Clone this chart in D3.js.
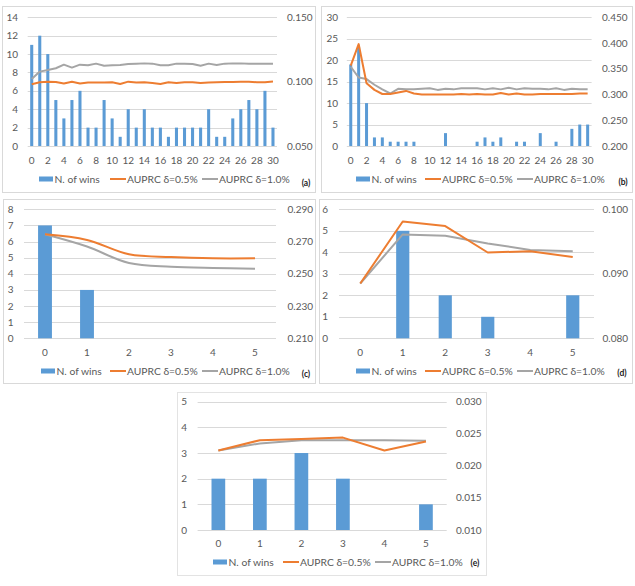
<!DOCTYPE html>
<html><head><meta charset="utf-8">
<script src="https://cdn.jsdelivr.net/npm/d3@7"></script>
<style>body{margin:0;background:#fff}svg{display:block}text{font-family:Lato,"Open Sans",sans-serif}</style>
</head><body><svg id="chart" width="635" height="586"></svg>
<script>
// ---------- DATA ----------
const categoriesLong = ["0","1","2","3","4","5","6","7","8","9","10","11","12","13","14","15","16","17","18","19","20","21","22","23","24","25","26","27","28","29","30"];
const categoriesShort = ["0","1","2","3","4","5"];
const seriesNames = ["N. of wins", "AUPRC δ=0.5%", "AUPRC δ=1.0%"];

const winsA = [11,12,10,5,3,5,6,2,2,5,3,1,4,2,4,2,2,1,2,2,2,2,4,1,1,3,4,5,4,6,2];
const auprc05A = [0.0980,0.0995,0.1000,0.0998,0.0986,0.1000,0.0986,0.0993,0.0993,0.0993,0.0995,0.0982,0.1000,0.0993,0.0995,0.0990,0.0982,0.0995,0.0990,0.0995,0.0995,0.0990,0.0993,0.0995,0.0998,0.0998,0.1000,0.1000,0.0995,0.0995,0.1002];
const auprc10A = [0.1021,0.1078,0.1090,0.1104,0.1132,0.1109,0.1132,0.1127,0.1140,0.1124,0.1127,0.1130,0.1137,0.1140,0.1142,0.1140,0.1127,0.1127,0.1140,0.1140,0.1137,0.1124,0.1140,0.1130,0.1140,0.1142,0.1142,0.1140,0.1140,0.1140,0.1140];

const winsB = [19,23,10,2,2,1,1,1,1,0,0,0,3,0,0,0,1,2,1,2,0,1,1,0,3,0,1,0,4,5,5];
const auprc05B = [0.356,0.398,0.322,0.309,0.301,0.301,0.304,0.307,0.302,0.300,0.300,0.300,0.300,0.300,0.301,0.300,0.301,0.300,0.300,0.303,0.300,0.302,0.300,0.300,0.301,0.301,0.301,0.301,0.301,0.302,0.302];
const auprc10B = [0.354,0.333,0.330,0.319,0.310,0.302,0.311,0.310,0.310,0.311,0.312,0.309,0.311,0.310,0.312,0.312,0.312,0.310,0.312,0.310,0.313,0.310,0.312,0.311,0.311,0.310,0.312,0.309,0.311,0.310,0.310];

const winsC = [7,3,0,0,0,0];
const auprc05C = [0.2745,0.2710,0.2621,0.2604,0.2596,0.2596];
const auprc10C = [0.2745,0.2669,0.2567,0.2544,0.2536,0.2532];

const winsD = [0,5,2,1,0,2];
const auprc05D = [0.0885,0.0981,0.0974,0.0933,0.0935,0.0926];
const auprc10D = [0.0885,0.0961,0.0959,0.0947,0.0937,0.0935];

const winsE = [2,2,3,2,0,1];
const auprc05E = [0.0224,0.0240,0.0242,0.0244,0.0224,0.0238];
const auprc10E = [0.0224,0.0235,0.0240,0.0240,0.0240,0.0239];

const leftTicksA = [0,2,4,6,8,10,12,14];
const rightTicksA = ["0.050","0.100","0.150"];
const leftTicksB = [0,5,10,15,20,25,30];
const rightTicksB = ["0.200","0.250","0.300","0.350","0.400","0.450"];
const leftTicksC = [0,1,2,3,4,5,6,7,8];
const rightTicksC = ["0.210","0.230","0.250","0.270","0.290"];
const leftTicksD = [0,1,2,3,4,5,6];
const rightTicksD = ["0.080","0.090","0.100"];
const leftTicksE = [0,1,2,3,4,5];
const rightTicksE = ["0.010","0.015","0.020","0.025","0.030"];

const xLabelsLong = ["0","2","4","6","8","10","12","14","16","18","20","22","24","26","28","30"];
const panelLabels = ["(a)","(b)","(c)","(d)","(e)"];

// ---------- LAYOUT ----------
const colors = {bar:"#5b9bd5", o:"#ed7d31", g:"#a5a5a5", text:"#595959", grid:"#d9d9d9", frame:"#d9d9d9"};
const panels = [
  {lab:panelLabels[0], box:[2,6,313,186], px:[27.7,277], py:[17.3,146], cats:categoriesLong, xl:xLabelsLong,
   wins:winsA, o:auprc05A, g:auprc10A, lt:leftTicksA, rt:rightTicksA, bf:0.38, lxr:18, rx:287, xly:160, ly:179,
   leg:[39,110,202], labxy:[306,183], curve:d3.curveLinear},
  {lab:panelLabels[1], box:[321,6,311,186], px:[346.8,591.6], py:[17.3,146], cats:categoriesLong, xl:xLabelsLong,
   wins:winsB, o:auprc05B, g:auprc10B, lt:leftTicksB, rt:rightTicksB, bf:0.38, lxr:338, rx:602, xly:160, ly:179,
   leg:[356,425,517], labxy:[623,182], curve:d3.curveLinear},
  {lab:panelLabels[2], box:[3,199,312,184], px:[24,276], py:[209.3,338.3], cats:categoriesShort, xl:categoriesShort,
   wins:winsC, o:auprc05C, g:auprc10C, lt:leftTicksC, rt:rightTicksC, bf:0.33, lxr:13.5, rx:287.5, xly:352, ly:371,
   leg:[41,110,202], labxy:[306,374], curve:d3.curveCatmullRom},
  {lab:panelLabels[3], box:[319,199,313,184], px:[339,594], py:[209.3,338.3], cats:categoriesShort, xl:categoriesShort,
   wins:winsD, o:auprc05D, g:auprc10D, lt:leftTicksD, rt:rightTicksD, bf:0.31, lxr:328, rx:602.5, xly:352, ly:371,
   leg:[356,425,517], labxy:[622,373], curve:d3.curveLinear},
  {lab:panelLabels[4], box:[177,392,309,183], px:[197.6,446.7], py:[401.7,530], cats:categoriesShort, xl:categoriesShort,
   wins:winsE, o:auprc05E, g:auprc10E, lt:leftTicksE, rt:rightTicksE, bf:0.33, lxr:187, rx:456, xly:543.5, ly:562,
   leg:[213,283,375], labxy:[475,563], curve:d3.curveLinear}
];

const svg = d3.select("#chart");
svg.append("rect").attr("width",635).attr("height",586).attr("fill","#fff");

panels.forEach(p => {
  const g = svg.append("g");
  g.append("rect").attr("x",p.box[0]+0.5).attr("y",p.box[1]+0.5).attr("width",p.box[2]).attr("height",p.box[3])
    .attr("fill","#fff").attr("stroke",p.lab==="(e)"?"#e3e3e3":colors.frame).attr("stroke-width",1);

  const x = d3.scaleBand().domain(p.cats).range(p.px).paddingInner(0).paddingOuter(0);
  const lmax = p.lt[p.lt.length-1];
  const yL = d3.scaleLinear().domain([0,lmax]).range([p.py[1],p.py[0]]);
  const rt = p.rt.map(Number);
  const yR = d3.scaleLinear().domain([rt[0],rt[rt.length-1]]).range([p.py[1],p.py[0]]);

  // gridlines
  g.selectAll(".grid").data(p.lt).enter().append("line")
    .attr("x1",p.px[0]).attr("x2",p.px[1])
    .attr("y1",d=>Math.round(yL(d))+0.5).attr("y2",d=>Math.round(yL(d))+0.5)
    .attr("stroke",colors.grid).attr("stroke-width",1);

  // left axis labels
  g.selectAll(".lt").data(p.lt).enter().append("text")
    .attr("x",p.lxr).attr("y",d=>yL(d)).attr("dy","0.35em").attr("text-anchor","end")
    .attr("font-size",10).attr("fill",colors.text).text(d=>d);
  // right axis labels
  g.selectAll(".rt").data(p.rt).enter().append("text")
    .attr("x",p.rx).attr("y",d=>yR(+d)).attr("dy","0.35em").attr("text-anchor","start")
    .attr("font-size",10).attr("fill",colors.text).text(d=>d);
  // x labels
  g.selectAll(".xt").data(p.xl).enter().append("text")
    .attr("x",d=>x(d)+x.bandwidth()/2).attr("y",p.xly).attr("dy","0.35em").attr("text-anchor","middle")
    .attr("font-size",10).attr("fill",colors.text).text(d=>d);

  // bars
  const bw = x.bandwidth()*p.bf;
  g.selectAll(".bar").data(p.wins).enter().append("rect")
    .attr("x",(d,i)=>x(p.cats[i])+x.bandwidth()/2-bw/2)
    .attr("y",d=>yL(d)).attr("width",bw).attr("height",d=>yL(0)-yL(d))
    .attr("fill",colors.bar);

  const line = vals => d3.line().curve(p.curve)
    .x((d,i)=>x(p.cats[i])+x.bandwidth()/2).y(d=>yR(d))(vals);
  g.append("path").attr("d",line(p.g)).attr("fill","none").attr("stroke",colors.g).attr("stroke-width",2).attr("stroke-linejoin","round");
  g.append("path").attr("d",line(p.o)).attr("fill","none").attr("stroke",colors.o).attr("stroke-width",2).attr("stroke-linejoin","round");

  // legend
  const ly = p.ly;
  g.append("rect").attr("x",p.leg[0]).attr("y",ly-2.5).attr("width",14).attr("height",5).attr("fill",colors.bar);
  g.append("text").attr("x",p.leg[0]+15.5).attr("y",ly).attr("dy","0.35em").attr("font-size",10.3).attr("fill",colors.text).text(seriesNames[0]);
  g.append("line").attr("x1",p.leg[1]).attr("x2",p.leg[1]+16).attr("y1",ly).attr("y2",ly).attr("stroke",colors.o).attr("stroke-width",2);
  g.append("text").attr("x",p.leg[1]+17).attr("y",ly).attr("dy","0.35em").attr("font-size",10.3).attr("fill",colors.text).text(seriesNames[1]);
  g.append("line").attr("x1",p.leg[2]).attr("x2",p.leg[2]+16).attr("y1",ly).attr("y2",ly).attr("stroke",colors.g).attr("stroke-width",2);
  g.append("text").attr("x",p.leg[2]+17).attr("y",ly).attr("dy","0.35em").attr("font-size",10.3).attr("fill",colors.text).text(seriesNames[2]);

  // panel label
  g.append("text").attr("x",p.labxy[0]).attr("y",p.labxy[1]).attr("dy","0.35em").attr("text-anchor","middle")
    .attr("font-size",8.5).attr("font-weight","bold").attr("fill","#222").text(p.lab);
});
</script></body></html>
